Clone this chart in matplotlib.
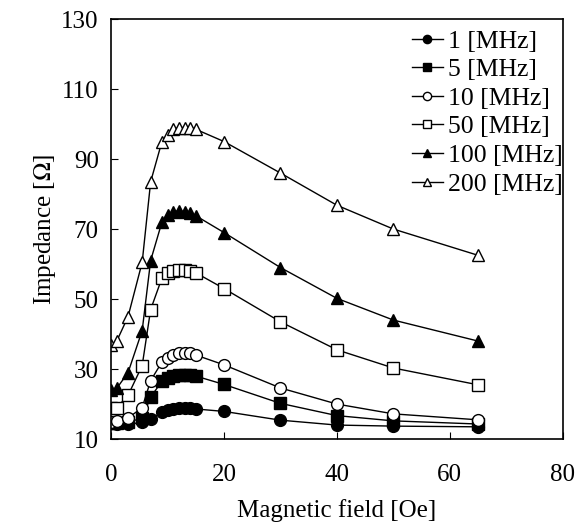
import matplotlib.pyplot as plt

plt.rcParams['font.family'] = ['Liberation Serif', 'DejaVu Serif']
plt.rcParams['mathtext.fontset'] = 'stix'

# magnetic field [Oe]
field = [0, 1, 3, 5.5, 7, 9, 10, 11, 12, 13, 14, 15, 20, 30, 40, 50, 65]

# impedance [Ohm] for each frequency
z_1 = [14.6, 14.3, 14.2, 14.8, 15.7, 17.6, 18.3, 18.6, 18.8, 18.9, 18.8, 18.6, 17.9, 15.4, 14.0, 13.7, 13.5]
z_5 = [14.5, 14.5, 14.8, 16.0, 22.0, 26.5, 27.5, 28.0, 28.3, 28.4, 28.3, 28.0, 25.6, 20.2, 16.7, 15.2, 14.3]
z_10 = [15.0, 15.2, 16.0, 19.0, 26.7, 32.0, 33.3, 34.0, 34.5, 34.6, 34.5, 34.0, 31.2, 24.6, 20.0, 17.2, 15.5]
z_50 = [19.0, 19.0, 22.5, 31.0, 47.0, 56.0, 57.5, 58.0, 58.3, 58.3, 58.0, 57.5, 53.0, 43.5, 35.5, 30.3, 25.5]
z_100 = [24.0, 24.5, 29.0, 41.0, 61.0, 72.0, 74.0, 75.0, 75.2, 75.0, 74.5, 73.8, 69.0, 59.0, 50.2, 44.0, 38.0]
z_200 = [37.0, 38.0, 45.0, 60.5, 83.5, 95.0, 97.0, 98.5, 99.0, 99.0, 99.0, 98.5, 95.0, 86.0, 76.8, 70.0, 62.5]

labels = ['1 [MHz]', '5 [MHz]', '10 [MHz]', '50 [MHz]', '100 [MHz]', '200 [MHz]']
series = [z_1, z_5, z_10, z_50, z_100, z_200]
markers = ['o', 's', 'o', 's', '^', '^']
filled = [True, True, False, False, True, False]

fig = plt.figure(figsize=(5.88, 5.29), dpi=100)
ax = fig.add_axes([0.189, 0.170, 0.768, 0.794])

for z, lab, m, f in zip(series, labels, markers, filled):
    ax.plot(field, z, color='black', lw=1.0, marker=m, markersize=8.5,
            markerfacecolor='black' if f else 'white',
            markeredgecolor='black', markeredgewidth=1.0, label=lab)

ax.set_xlim(0, 80)
ax.set_ylim(10, 130)
ax.set_xticks([0, 20, 40, 60, 80])
ax.set_yticks([10, 30, 50, 70, 90, 110, 130])
ax.tick_params(direction='in', length=5, labelsize=18)
ax.tick_params(axis='x', pad=18)
ax.tick_params(axis='y', pad=9)
ax.set_xlabel('Magnetic field [Oe]', fontsize=18, labelpad=9)
ax.set_ylabel(r'Impedance [$\Omega$]', fontsize=18, labelpad=2)
for s in ax.spines.values():
    s.set_linewidth(1.2)

ax.legend(loc='upper right', bbox_to_anchor=(1.0, 0.975), frameon=False,
          fontsize=18.5, markerscale=0.7, handlelength=1.2, handletextpad=0.2,
          labelspacing=0.22, borderaxespad=0.0, borderpad=0.0)

fig.savefig('out.png', dpi=100)
